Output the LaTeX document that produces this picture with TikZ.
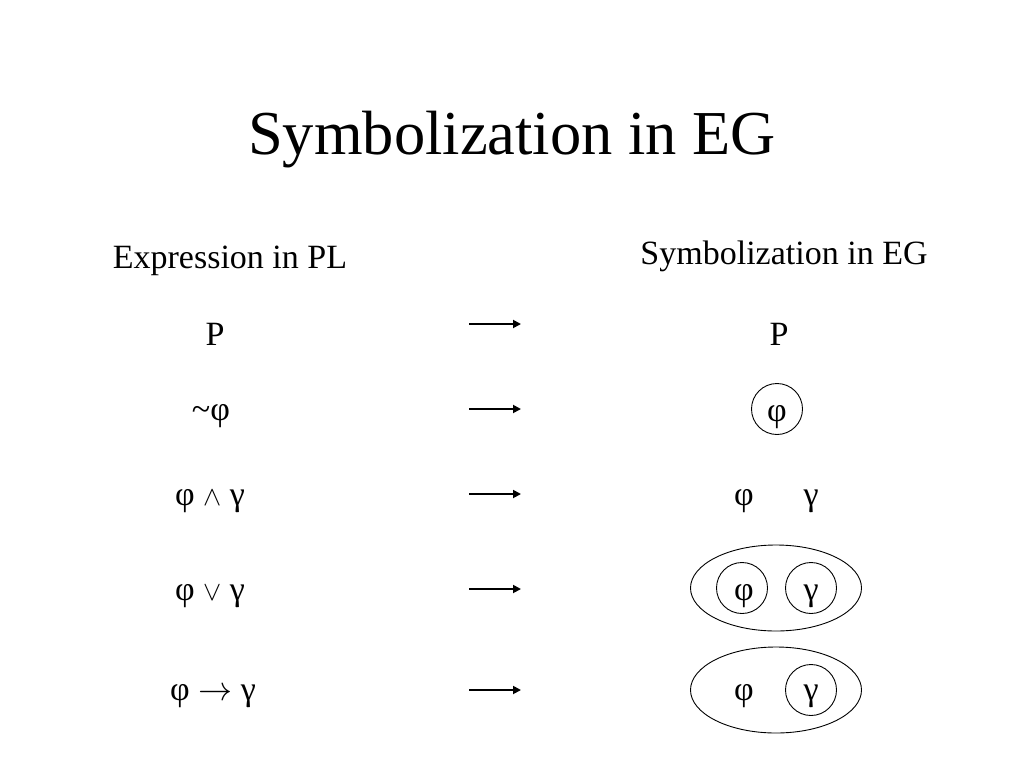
\RequirePackage{fix-cm}
\documentclass[tikz,border=0pt]{standalone}
\usepackage{fontspec}
\setmainfont{Liberation Serif}
\usetikzlibrary{shapes.geometric,arrows.meta}
\newcommand{\myphi}{φ}
\newcommand{\myand}{\scalebox{0.8}{$\wedge$}}
\newcommand{\myor}{\scalebox{0.8}{$\vee$}}
\newcommand{\myto}{$\rightarrow$}
\begin{document}
\begin{tikzpicture}[x=1pt,y=-1pt,
  title/.style={font=\fontsize{62.5}{70}\selectfont, inner sep=0pt, anchor=base},
  txt/.style={font=\fontsize{34}{40}\selectfont, inner sep=0pt, anchor=base},
  cut/.style={draw, circle, minimum size=51pt, line width=0.9pt},
  bigcut/.style={draw, ellipse, minimum width=171pt, minimum height=86pt, line width=0.9pt},
  maps/.style={line width=1.8pt, -{Triangle[length=8pt,width=8pt]}}]
\useasboundingbox (0,0) rectangle (1024,768);
\fill[white] (0,0) rectangle (1024,768);
\node[title] (t) at (512,154) {Symbolization in EG};
\node[txt] (hl) at (230,268) {Expression in PL};
\node[txt] (hr) at (784,264) {Symbolization in EG};
% left column
\node[txt] (l1) at (215,345) {P};
\node[txt] (l2) at (211,420) {\char"7E\myphi};
\node[txt] (l3) at (210,505) {\myphi{} \myand{} γ};
\node[txt] (l4) at (210,600) {\myphi{} \myor{} γ};
\node[txt] (l5) at (213,700) {\myphi{} \myto{} γ};
% arrows
\foreach \i/\yy in {1/324,2/409,3/494,4/589,5/690}{
  \coordinate (a\i) at (469,\yy);
  \coordinate (b\i) at (521,\yy);
  \draw[maps] (a\i) -- (b\i);
}
% right column
\node[txt] (r1) at (779,345) {P};
\node[cut] (c2) at (777,409) {};
\node[txt] (r2) at (777,421) {\myphi};
\node[txt] (r3a) at (744,505) {\myphi};
\node[txt] (r3b) at (811,505) {γ};
\node[bigcut] (e4) at (776,588) {};
\node[cut] (c4a) at (742,588) {};
\node[cut] (c4b) at (811,588) {};
\node[txt] (r4a) at (744,600) {\myphi};
\node[txt] (r4b) at (811,600) {γ};
\node[bigcut] (e5) at (776,690) {};
\node[cut] (c5) at (811,690) {};
\node[txt] (r5a) at (744,700) {\myphi};
\node[txt] (r5b) at (811,700) {γ};
\end{tikzpicture}
\end{document}
